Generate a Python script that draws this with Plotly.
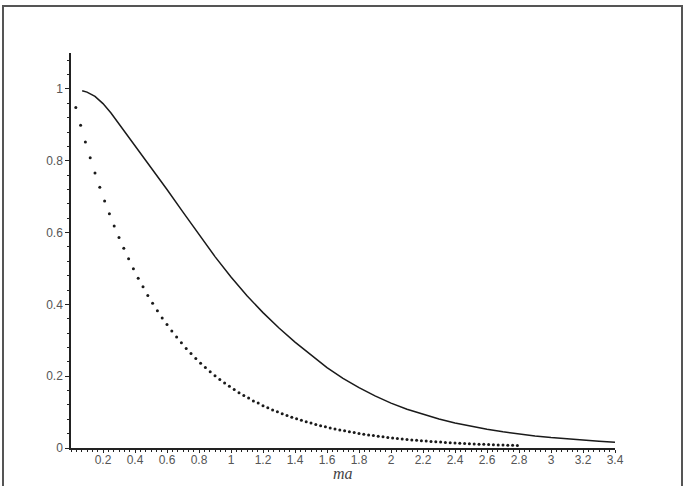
import plotly.graph_objects as go

# Solid curve
solid_x = [0.07, 0.10, 0.15, 0.20, 0.25, 0.30, 0.40, 0.50, 0.60, 0.70, 0.80, 0.90, 1.00,
           1.10, 1.20, 1.30, 1.40, 1.50, 1.60, 1.70, 1.80, 1.90, 2.00, 2.10,
           2.20, 2.30, 2.40, 2.50, 2.60, 2.70, 2.80, 2.90, 3.00, 3.10, 3.20,
           3.30, 3.40]
solid_y = [0.995, 0.991, 0.979, 0.959, 0.933, 0.903, 0.842, 0.781, 0.720, 0.657, 0.594, 0.533, 0.476,
           0.424, 0.377, 0.334, 0.295, 0.259, 0.224, 0.194, 0.168, 0.145, 0.125, 0.108,
           0.0935, 0.0808, 0.0698, 0.0603, 0.0521, 0.0450, 0.0389, 0.0336, 0.0290, 0.0251, 0.0217,
           0.0187, 0.0162]

# Dotted curve
dot_x = [0.03, 0.06, 0.09, 0.12, 0.15, 0.18, 0.21, 0.24, 0.27, 0.30,
         0.33, 0.36, 0.39, 0.42, 0.45, 0.48, 0.51, 0.54, 0.57, 0.60,
         0.63, 0.66, 0.69, 0.72, 0.75, 0.78, 0.81, 0.84, 0.87, 0.90,
         0.93, 0.96, 0.99, 1.02, 1.05, 1.08, 1.11, 1.14, 1.17, 1.20,
         1.23, 1.26, 1.29, 1.32, 1.35, 1.38, 1.41, 1.44, 1.47, 1.50,
         1.53, 1.56, 1.59, 1.62, 1.65, 1.68, 1.71, 1.74, 1.77, 1.80,
         1.83, 1.86, 1.89, 1.92, 1.95, 1.98, 2.01, 2.04, 2.07, 2.10,
         2.13, 2.16, 2.19, 2.22, 2.25, 2.28, 2.31, 2.34, 2.37, 2.40,
         2.43, 2.46, 2.49, 2.52, 2.55, 2.58, 2.61, 2.64, 2.67, 2.70,
         2.73, 2.76, 2.79]
dot_y = [0.948, 0.899, 0.852, 0.808, 0.766, 0.726, 0.688, 0.652, 0.618, 0.586,
         0.556, 0.527, 0.499, 0.473, 0.449, 0.425, 0.403, 0.382, 0.362, 0.344,
         0.326, 0.309, 0.293, 0.277, 0.263, 0.249, 0.236, 0.224, 0.212, 0.2015,
         0.191, 0.181, 0.172, 0.163, 0.154, 0.146, 0.139, 0.131, 0.125, 0.118,
         0.112, 0.106, 0.101, 0.0955, 0.0905, 0.0858, 0.0813, 0.0771, 0.0731, 0.0693,
         0.0657, 0.0623, 0.0590, 0.0560, 0.0531, 0.0503, 0.0477, 0.0452, 0.0429, 0.0406,
         0.0385, 0.0365, 0.0346, 0.0328, 0.0311, 0.0295, 0.0280, 0.0265, 0.0251, 0.0238,
         0.0226, 0.0214, 0.0203, 0.0192, 0.0182, 0.0173, 0.0164, 0.0155, 0.0147, 0.0140,
         0.0132, 0.0125, 0.0119, 0.0113, 0.0107, 0.0101, 0.0096, 0.0091, 0.0086, 0.0082,
         0.0078, 0.0074, 0.0070]

x_ticks = [0.2, 0.4, 0.6, 0.8, 1, 1.2, 1.4, 1.6, 1.8, 2, 2.2, 2.4, 2.6, 2.8, 3, 3.2, 3.4]
x_tick_text = ["0.2", "0.4", "0.6", "0.8", "1", "1.2", "1.4", "1.6", "1.8", "2",
               "2.2", "2.4", "2.6", "2.8", "3", "3.2", "3.4"]
y_ticks = [0, 0.2, 0.4, 0.6, 0.8, 1]
y_tick_text = ["0", "0.2", "0.4", "0.6", "0.8", "1"]
x_title = "ma"

W, H = 685, 486
L, R, T, B = 71, 70, 53, 38

fig = go.Figure()
fig.add_trace(go.Scatter(x=solid_x, y=solid_y, mode="lines", line_shape="linear",
                         line=dict(color="#1a1a1a", width=1.5),
                         showlegend=False))
fig.add_trace(go.Scatter(x=dot_x, y=dot_y, mode="markers",
                         marker=dict(color="#1a1a1a", size=3, symbol="circle"),
                         showlegend=False))

tick_font = dict(family="Liberation Sans, Arial, sans-serif", size=12, color="#555555")

fig.update_xaxes(range=[0, 3.4], tickvals=x_ticks, ticktext=x_tick_text,
                 showgrid=False, zeroline=False, showline=True, linecolor="#222222",
                 linewidth=1.5, ticks="outside", ticklen=3, tickcolor="#222222",
                 tickwidth=1, tickfont=tick_font, ticklabelstandoff=-3,
                 minor=dict(dtick=0.2 / 6, tick0=0, ticks="outside", ticklen=2,
                            tickcolor="#222222", showgrid=False))
fig.update_yaxes(range=[0, 1.1], tickvals=y_ticks, ticktext=y_tick_text,
                 showgrid=False, zeroline=False, showline=True, linecolor="#222222",
                 linewidth=1.5, ticks="outside", ticklen=4, tickcolor="#222222",
                 tickwidth=1, tickfont=tick_font,
                 minor=dict(dtick=0.04, tick0=0, ticks="outside", ticklen=2,
                            tickcolor="#222222", showgrid=False))

pw = W - L - R
ph = H - T - B
def px_x(p):
    return (p - L) / pw
def px_y(p):
    return (H - B - p) / ph

fig.add_annotation(text="<i>" + x_title + "</i>", xref="paper", yref="paper",
                   x=0.5, y=px_y(474), showarrow=False, xanchor="center", yanchor="middle",
                   font=dict(family="Liberation Serif, Times New Roman, serif",
                             size=16, color="#444444"))

# outer frame
fig.add_shape(type="rect", xref="paper", yref="paper",
              x0=px_x(3), x1=px_x(682), y0=px_y(495), y1=px_y(6),
              line=dict(color="#555555", width=2), fillcolor="rgba(0,0,0,0)")

fig.update_layout(width=W, height=H, margin=dict(l=L, r=R, t=T, b=B),
                  plot_bgcolor="white", paper_bgcolor="white")

fig.write_html("out.html")
